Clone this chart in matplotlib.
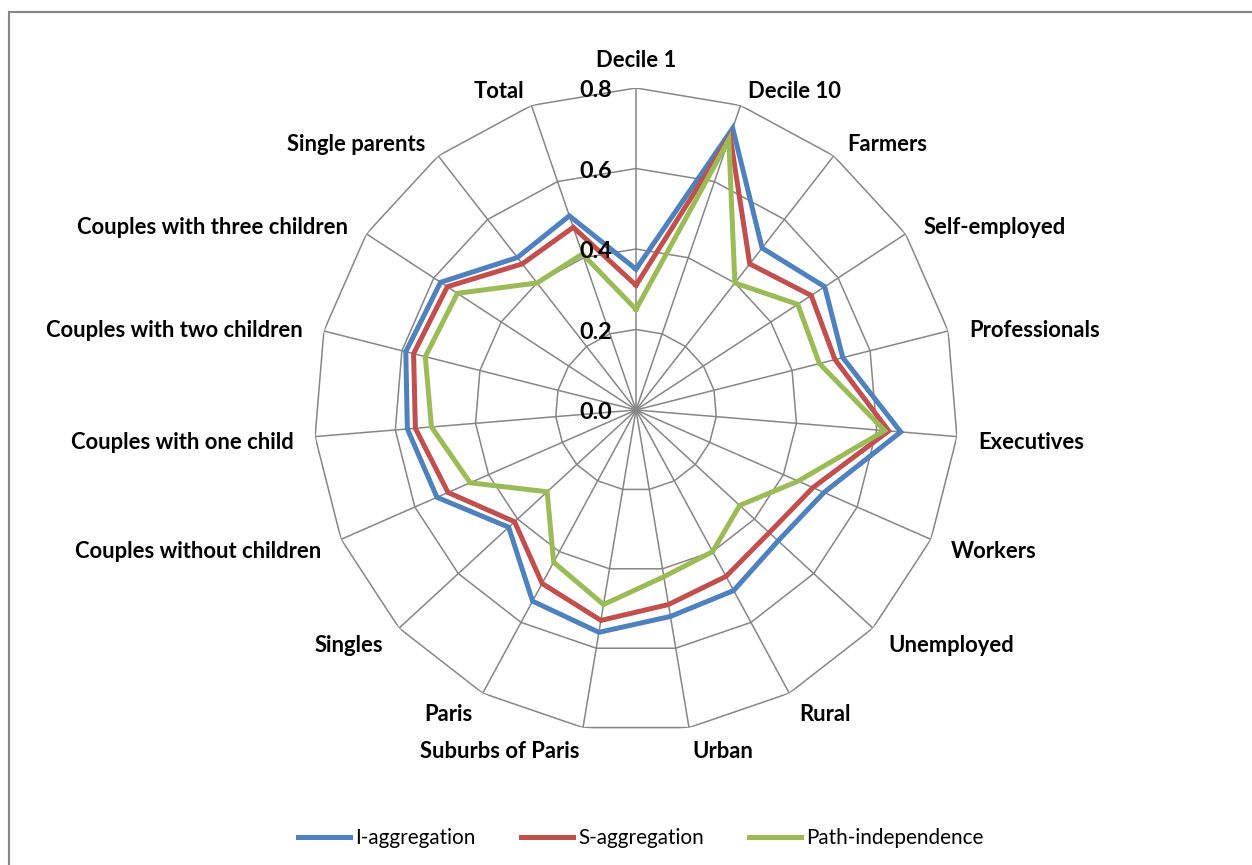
import numpy as np
import matplotlib
matplotlib.use('Agg')
import matplotlib.pyplot as plt
from matplotlib.lines import Line2D

categories = ['Decile 1', 'Decile 10', 'Farmers', 'Self-employed', 'Professionals',
              'Executives', 'Workers', 'Unemployed', 'Rural', 'Urban',
              'Suburbs of Paris', 'Paris', 'Singles', 'Couples without children',
              'Couples with one child', 'Couples with two children',
              'Couples with three children', 'Single parents', 'Total']
i_aggregation = [0.35, 0.74, 0.51, 0.56, 0.53, 0.66, 0.51, 0.48, 0.51, 0.52,
                 0.56, 0.54, 0.43, 0.54, 0.57, 0.59, 0.58, 0.48, 0.51]
s_aggregation = [0.31, 0.72, 0.46, 0.52, 0.51, 0.63, 0.48, 0.45, 0.47, 0.49,
                 0.53, 0.49, 0.41, 0.51, 0.55, 0.57, 0.56, 0.46, 0.48]
path_independence = [0.25, 0.71, 0.40, 0.48, 0.47, 0.62, 0.44, 0.35, 0.40, 0.42,
                     0.49, 0.43, 0.30, 0.45, 0.51, 0.54, 0.53, 0.40, 0.41]
series_names = ['I-aggregation', 'S-aggregation', 'Path-independence']
series_colors = ['#4F81BD', '#C0504D', '#9BBB59']
rings = [0.2, 0.4, 0.6, 0.8]
ring_labels = ['0.0', '0.2', '0.4', '0.6', '0.8']

plt.rcParams['font.family'] = ['Lato', 'DejaVu Sans']
W, H = 1252, 865
fig = plt.figure(figsize=(W / 100, H / 100), dpi=100)

# outer chart border
fig.add_artist(Line2D([9 / W, 9 / W], [0, 1 - 12 / H], color='#868686', lw=1.5))
fig.add_artist(Line2D([9 / W, 1], [1 - 12 / H, 1 - 12 / H], color='#868686', lw=1.5))

cx, cy, R = 636, 410, 322
ax = fig.add_axes([(cx - R) / W, (H - cy - R) / H, 2 * R / W, 2 * R / H], projection='polar')
ax.set_theta_zero_location('N')
ax.set_theta_direction(-1)
ax.set_ylim(0, 0.8)
ax.spines['polar'].set_visible(False)

n = len(categories)
angles = np.arange(n) * 2 * np.pi / n
closed = np.append(angles, angles[0])

ax.set_xticks(angles)
ax.set_xticklabels([])
ax.set_yticks(rings)
ax.set_yticklabels([])
ax.yaxis.grid(False)
ax.xaxis.grid(True, color='#868686', lw=1.1)
ax.tick_params(length=0)

for r in rings:
    ax.plot(closed, [r] * (n + 1), color='#868686', lw=1.1, zorder=1)

for vals, name, col in zip([i_aggregation, s_aggregation, path_independence],
                           series_names, series_colors):
    ax.plot(closed, vals + vals[:1], color=col, lw=3.6, label=name,
            solid_joinstyle='miter', zorder=3)

# category labels outside the outer ring
for ang, lab in zip(angles, categories):
    s, c = np.sin(ang), np.cos(ang)
    if s > 0.05:
        ha = 'left'
    elif s < -0.05:
        ha = 'right'
    else:
        ha = 'center'
    if ha == 'center':
        off = (0, 20)
    else:
        off = (15.5 * s, 14 * c - 3.2)
    ax.annotate(lab, xy=(ang, 0.8), xytext=off,
                textcoords='offset points', ha=ha, va='center',
                fontsize=15.8, fontweight='bold', annotation_clip=False)

# radial value labels
for r, lab in zip([0.0] + rings, ring_labels):
    ax.annotate(lab, xy=(0, r), xytext=(-17, -2), textcoords='offset points',
                ha='right', va='center', fontsize=16.8, fontweight='bold',
                annotation_clip=False, zorder=4)

fig.legend(loc='center', bbox_to_anchor=(641 / W, 1 - 838 / H), ncol=3,
           frameon=False, fontsize=14.9, handlelength=2.5, handletextpad=0.25,
           columnspacing=2.2)

fig.savefig('out.png', dpi=100)
